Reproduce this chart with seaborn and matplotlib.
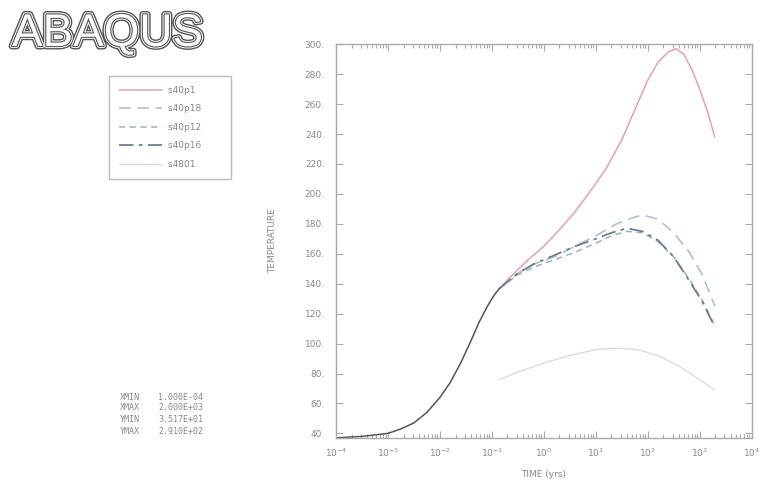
import numpy as np
import pandas as pd
import matplotlib
matplotlib.use("Agg")
import matplotlib.pyplot as plt
import matplotlib.patheffects as pe
from matplotlib.ticker import FixedLocator, LogLocator, NullFormatter
from matplotlib.lines import Line2D
import seaborn as sns

# ---- data (log10 time in years, temperature) ----
common_logt = [-4.0, -3.5, -3.0, -2.75, -2.5, -2.25, -2.0, -1.8, -1.6, -1.4,
               -1.25, -1.1, -1.0, -0.92, -0.85]
common_temp = [37, 38, 40, 43, 47, 54, 64, 74, 87, 102, 114, 124, 130, 134, 137]

s40p1_logt = [-0.85, -0.6, -0.3, 0.0, 0.3, 0.6, 0.9, 1.2, 1.5, 1.8, 2.0, 2.2,
              2.4, 2.55, 2.7, 2.85, 3.0, 3.15, 3.29]
s40p1_temp = [137, 146, 156, 165, 176, 188, 202, 217, 236, 260, 276, 288,
              295, 297, 293, 283, 270, 255, 238]

s40p18_logt = [-0.85, -0.5, -0.2, 0.2, 0.6, 1.0, 1.4, 1.7, 1.9, 2.2, 2.5, 2.8,
               3.05, 3.29]
s40p18_temp = [137, 147, 153, 158, 165, 172, 180, 184, 186, 183, 174, 161,
               146, 125]

s40p12_logt = [-0.85, -0.5, -0.2, 0.2, 0.6, 1.0, 1.3, 1.6, 1.9, 2.2, 2.5,
               2.8, 3.05, 3.29]
s40p12_temp = [137, 146, 151, 156, 161, 167, 172, 175, 174, 168, 158, 143,
               129, 112]

s40p16_logt = [-0.85, -0.5, -0.2, 0.2, 0.6, 1.0, 1.3, 1.6, 1.9, 2.2, 2.5,
               2.8, 3.05, 3.29]
s40p16_temp = [137, 147, 153, 159, 165, 170, 174, 177, 175, 169, 158, 142,
               128, 111]

s4801_logt = [-0.85, -0.5, 0.0, 0.5, 1.0, 1.4, 1.8, 2.2, 2.6, 3.0, 3.29]
s4801_temp = [76, 81, 87, 92, 96, 97, 96, 92, 85, 76, 69]

series_names = ["s40p1", "s40p18", "s40p12", "s40p16", "s4801"]
yticks = [40, 60, 80, 100, 120, 140, 160, 180, 200, 220, 240, 260, 280, 300]
xtick_exps = [-4, -3, -2, -1, 0, 1, 2, 3, 4]
info_keys = ["XMIN", "XMAX", "YMIN", "YMAX"]
info_vals = ["1.000E-04", "2.000E+03", "3.517E+01", "2.910E+02"]

# ---- figure ----
sns.set_style("ticks")
plt.rcParams["font.family"] = ["DejaVu Sans"]
fig = plt.figure(figsize=(7.67, 4.86), dpi=100)
ax = fig.add_axes([0.438, 0.099, 0.542, 0.810])

styles = {
    "s40p1": dict(color="#e8a0a8", lw=1.1, ls="-"),
    "s40p18": dict(color="#a8c4d0", lw=1.2, ls=(0, (7, 4))),
    "s40p12": dict(color="#9ab0c0", lw=1.1, ls=(0, (4, 3))),
    "s40p16": dict(color="#6a8090", lw=1.3, ls=(0, (8, 3, 2, 3))),
    "s4801": dict(color="#dcdcdc", lw=1.0, ls="-"),
}
data = {
    "s40p1": (s40p1_logt, s40p1_temp),
    "s40p18": (s40p18_logt, s40p18_temp),
    "s40p12": (s40p12_logt, s40p12_temp),
    "s40p16": (s40p16_logt, s40p16_temp),
    "s4801": (s4801_logt, s4801_temp),
}

for name in ["s4801", "s40p1", "s40p18", "s40p12", "s40p16"]:
    lt, tp = data[name]
    df = pd.DataFrame({"t": np.power(10.0, lt), "T": tp})
    sns.lineplot(data=df, x="t", y="T", ax=ax, estimator=None, sort=False,
                 **styles[name])
dfc = pd.DataFrame({"t": np.power(10.0, common_logt), "T": common_temp})
sns.lineplot(data=dfc, x="t", y="T", ax=ax, estimator=None, sort=False,
             color="#555555", lw=1.1)

ax.set_xscale("log")
ax.set_xlim(1e-4, 1e4)
ax.set_ylim(37, 300)
ax.xaxis.set_major_locator(FixedLocator([10.0 ** e for e in xtick_exps]))
ax.set_xticklabels([f"10$^{{{e}}}$" for e in xtick_exps])
ax.xaxis.set_minor_locator(LogLocator(base=10, subs=np.arange(2, 10), numticks=20))
ax.xaxis.set_minor_formatter(NullFormatter())
ax.set_yticks(yticks)
ax.set_yticklabels([f"{v}." for v in yticks])
ax.tick_params(axis="both", which="both", direction="in", top=True, right=True,
               colors="#aaaaaa", labelcolor="#888888", labelsize=6.5, width=0.8)
ax.tick_params(axis="both", which="major", length=5)
ax.tick_params(axis="both", which="minor", length=3)
ax.tick_params(axis="y", pad=8)
ax.tick_params(axis="x", pad=6)
for s in ax.spines.values():
    s.set_color("#aaaaaa")
    s.set_linewidth(1.0)
ax.set_xlabel("TIME (yrs)", fontsize=6.5, color="#888888", labelpad=8)
ax.set_ylabel("TEMPERATURE", fontsize=6.5, color="#888888", labelpad=20)

# legend
hs = [Line2D([], [], **styles[n]) for n in series_names]
leg = fig.legend(hs, [n + "       " for n in series_names], loc="upper left",
                 bbox_to_anchor=(0.142, 0.844),
                 fancybox=False, frameon=True, fontsize=6.5, handlelength=4.8,
                 labelspacing=1.05, borderpad=1.1, handletextpad=0.6,
                 borderaxespad=0)
leg.get_frame().set_edgecolor("#aaaaaa")
leg.get_frame().set_linewidth(1.0)
for t in leg.get_texts():
    t.set_color("#888888")

# info text
ys = [397, 408, 420, 431]
for k, v, yp in zip(info_keys, info_vals, ys):
    fig.text(120 / 767, 1 - yp / 486, k, fontsize=6, color="#888888",
             family="DejaVu Sans Mono", va="center")
    fig.text(158 / 767, 1 - yp / 486, v, fontsize=6, color="#888888",
             family="DejaVu Sans Mono", va="center")

# logo
fig.text(12 / 767, 1 - 46 / 486, "ABAQUS", fontsize=33, color="white",
         family="Liberation Sans",
         path_effects=[pe.Stroke(linewidth=5, foreground="#555555"),
                       pe.Stroke(linewidth=3, foreground="white"),
                       pe.Stroke(linewidth=1.6, foreground="#555555"),
                       pe.Normal()])

fig.savefig("out.png", dpi=100)
